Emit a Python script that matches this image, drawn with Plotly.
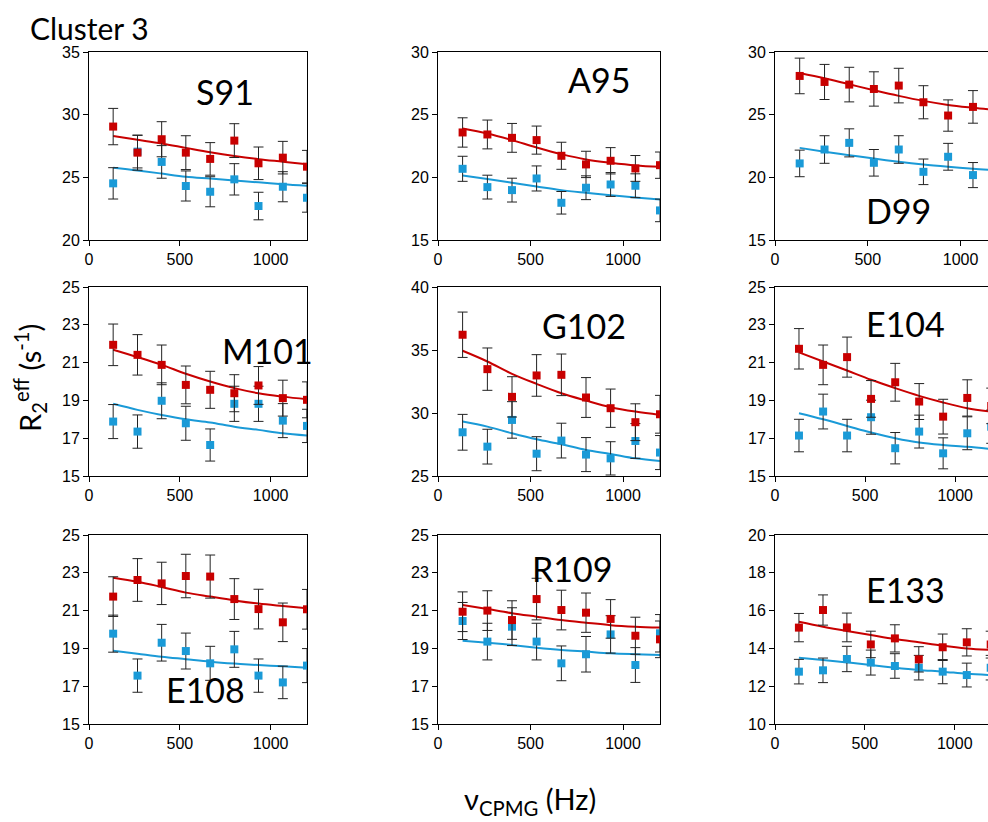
import plotly.graph_objects as go
from plotly.subplots import make_subplots

# ---------------- data ----------------
x_vcpmg = [133, 267, 400, 533, 667, 800, 933, 1067, 1200]

names = ["S91", "A95", "D99", "M101", "G102", "E104", "E108", "R109", "E133"]

s91_red = [29.05, 26.97, 28.04, 26.97, 26.47, 27.93, 26.12, 26.57, 25.85]
s91_blue = [24.52, 27.05, 26.23, 24.31, 23.85, 24.84, 22.71, 24.25, 23.37]
s91_red_err = [1.45, 1.4, 1.4, 1.35, 1.3, 1.35, 1.3, 1.3, 1.3]
s91_blue_err = [1.25, 1.3, 1.3, 1.2, 1.2, 1.25, 1.1, 1.2, 1.15]
s91_red_fit = [28.3, 28.0, 27.7, 27.35, 27.0, 26.7, 26.45, 26.25, 26.05]
s91_blue_fit = [25.77, 25.55, 25.3, 25.05, 24.9, 24.75, 24.6, 24.45, 24.33]

a95_red = [23.58, 23.42, 23.15, 22.97, 21.72, 21.03, 21.32, 20.71, 20.97]
a95_blue = [20.68, 19.22, 18.98, 19.91, 17.97, 19.17, 19.43, 19.33, 17.36]
a95_red_err = [1.17, 1.15, 1.15, 1.12, 1.08, 1.05, 1.05, 1.03, 1.05]
a95_blue_err = [1.0, 0.95, 0.95, 1.0, 0.9, 0.95, 0.95, 0.95, 0.9]
a95_red_fit = [23.9, 23.5, 22.97, 22.38, 21.85, 21.43, 21.16, 20.95, 20.84]
a95_blue_fit = [20.15, 19.87, 19.57, 19.27, 18.98, 18.77, 18.58, 18.4, 18.24]

d99_red = [28.09, 27.61, 27.4, 27.05, 27.32, 25.99, 24.93, 25.62, 25.2]
d99_blue = [21.11, 22.22, 22.75, 21.16, 22.22, 20.44, 21.64, 20.18, 20.3]
d99_red_err = [1.42, 1.4, 1.38, 1.37, 1.38, 1.32, 1.25, 1.3, 1.3]
d99_blue_err = [1.06, 1.1, 1.12, 1.06, 1.1, 1.02, 1.07, 1.0, 1.0]
d99_red_fit = [28.33, 27.9, 27.42, 26.95, 26.5, 26.1, 25.78, 25.55, 25.35]
d99_blue_fit = [22.35, 22.05, 21.77, 21.5, 21.24, 21.02, 20.84, 20.68, 20.55]

m101_red = [21.94, 21.41, 20.88, 19.82, 19.56, 19.38, 19.79, 19.12, 19.03]
m101_blue = [17.88, 17.35, 18.98, 17.79, 16.64, 18.82, 18.82, 17.93, 17.65]
m101_red_err = [1.1, 1.07, 1.05, 1.0, 0.98, 0.98, 1.0, 0.95, 0.95]
m101_blue_err = [0.9, 0.88, 0.95, 0.9, 0.85, 0.93, 0.93, 0.9, 0.88]
m101_red_fit = [21.68, 21.29, 20.88, 20.41, 20.0, 19.65, 19.38, 19.2, 19.06]
m101_blue_fit = [18.82, 18.5, 18.23, 18.0, 17.83, 17.61, 17.44, 17.26, 17.14]

g102_red = [36.21, 33.48, 31.28, 32.98, 33.03, 31.23, 30.38, 29.27, 29.9]
g102_blue = [28.47, 27.33, 29.45, 26.77, 27.81, 26.7, 26.4, 27.78, 26.86]
g102_red_err = [1.8, 1.68, 1.6, 1.65, 1.65, 1.58, 1.52, 1.46, 1.5]
g102_blue_err = [1.42, 1.38, 1.45, 1.35, 1.38, 1.35, 1.32, 1.38, 1.35]
g102_red_fit = [34.94, 34.09, 33.11, 32.31, 31.57, 30.99, 30.46, 30.11, 29.85]
g102_blue_fit = [29.32, 28.92, 28.39, 27.91, 27.52, 27.07, 26.75, 26.4, 26.19]

e104_red = [21.73, 20.88, 21.29, 19.08, 19.96, 18.94, 18.14, 19.13, 18.71]
e104_blue = [17.14, 18.41, 17.14, 18.11, 16.47, 17.35, 16.2, 17.26, 17.61]
e104_red_err = [1.07, 1.05, 1.06, 0.97, 1.0, 0.95, 0.92, 0.96, 0.94]
e104_blue_err = [0.86, 0.92, 0.86, 0.9, 0.83, 0.87, 0.82, 0.87, 0.88]
e104_red_fit = [21.54, 21.06, 20.58, 20.09, 19.65, 19.24, 18.89, 18.59, 18.41]
e104_blue_fit = [18.32, 18.0, 17.65, 17.3, 17.0, 16.77, 16.64, 16.55, 16.43]

e108_red = [21.74, 22.62, 22.44, 22.83, 22.8, 21.61, 21.08, 20.38, 21.07]
e108_blue = [19.78, 17.56, 19.3, 18.86, 18.21, 18.95, 17.56, 17.2, 18.09]
e108_red_err = [1.05, 1.13, 1.12, 1.15, 1.14, 1.08, 1.05, 1.02, 1.05]
e108_blue_err = [0.98, 0.88, 0.97, 0.95, 0.9, 0.95, 0.88, 0.86, 0.9]
e108_red_fit = [22.74, 22.53, 22.25, 21.95, 21.74, 21.54, 21.37, 21.24, 21.12]
e108_blue_fit = [18.88, 18.72, 18.56, 18.43, 18.3, 18.2, 18.12, 18.05, 17.98]

r109_red = [20.94, 21.0, 20.5, 21.61, 21.03, 20.89, 20.56, 19.67, 19.48]
r109_blue = [20.45, 19.36, 20.15, 19.36, 18.21, 18.69, 19.74, 18.12, 19.8]
r109_red_err = [1.05, 1.05, 1.02, 1.1, 1.05, 1.04, 1.02, 0.98, 0.97]
r109_blue_err = [0.98, 0.97, 1.0, 0.97, 0.92, 0.94, 0.99, 0.92, 0.99]
r109_red_fit = [21.3, 21.08, 20.86, 20.68, 20.5, 20.36, 20.23, 20.15, 20.1]
r109_blue_fit = [19.41, 19.3, 19.18, 19.04, 18.92, 18.83, 18.74, 18.69, 18.65]

e133_red = [15.1, 16.03, 15.11, 14.21, 14.53, 13.42, 14.06, 14.32, 14.2]
e133_blue = [12.77, 12.84, 13.44, 13.25, 13.07, 12.98, 12.77, 12.59, 12.98]
e133_red_err = [0.75, 0.8, 0.76, 0.7, 0.72, 0.67, 0.7, 0.72, 0.71]
e133_blue_err = [0.65, 0.65, 0.67, 0.66, 0.65, 0.65, 0.64, 0.63, 0.65]
e133_red_fit = [15.41, 15.15, 14.92, 14.71, 14.5, 14.32, 14.14, 14.0, 13.92]
e133_blue_fit = [13.51, 13.39, 13.26, 13.12, 12.98, 12.86, 12.77, 12.66, 12.59]

y_ranges = [[20, 35], [15, 30], [15, 30],
            [15, 25], [25, 40], [15, 25],
            [15, 25], [15, 25], [10, 20]]
y_dticks = [5, 5, 5, 2, 5, 2, 2, 2, 2]
x_maxes = [1200, 1200, 1148,
           1200, 1200, 1182,
           1200, 1200, 1185]
x_ticks = [0, 500, 1000]

panels = [
    (s91_red, s91_blue, s91_red_err, s91_blue_err, s91_red_fit, s91_blue_fit),
    (a95_red, a95_blue, a95_red_err, a95_blue_err, a95_red_fit, a95_blue_fit),
    (d99_red, d99_blue, d99_red_err, d99_blue_err, d99_red_fit, d99_blue_fit),
    (m101_red, m101_blue, m101_red_err, m101_blue_err, m101_red_fit, m101_blue_fit),
    (g102_red, g102_blue, g102_red_err, g102_blue_err, g102_red_fit, g102_blue_fit),
    (e104_red, e104_blue, e104_red_err, e104_blue_err, e104_red_fit, e104_blue_fit),
    (e108_red, e108_blue, e108_red_err, e108_blue_err, e108_red_fit, e108_blue_fit),
    (r109_red, r109_blue, r109_red_err, r109_blue_err, r109_red_fit, r109_blue_fit),
    (e133_red, e133_blue, e133_red_err, e133_blue_err, e133_red_fit, e133_blue_fit),
]

# ---------------- layout geometry ----------------
# body margin is removed by the post script, so the figure fills the window
OFF = 0
W, H = 988, 822
col_px = [(89, 307), (438, 660), (775, 988)]   # window pixels
row_px = [(52, 240), (287, 476), (535, 724)]

label_pos = [(225, 92), (599, 79), (898, 210),
             (267, 350), (584, 325), (905, 323),
             (205, 689), (572, 568), (905, 589)]


def px(x):
    return (x - OFF) / W


def py(y):
    return 1 - (y - OFF) / H


RED = "#C80000"
BLUE = "#1A9AD7"
TICKFONT = dict(family="Liberation Sans, Arial", size=16, color="black")
LABELFONT = "Lato, Noto Sans"

fig = make_subplots(rows=3, cols=3)

for i, (red, blue, rerr, berr, rfit, bfit) in enumerate(panels):
    r, c = i // 3 + 1, i % 3 + 1
    fig.add_trace(go.Scatter(x=x_vcpmg, y=rfit, mode="lines", line=dict(color=RED, width=2, shape="spline"),
                             showlegend=False, hoverinfo="skip"), row=r, col=c)
    fig.add_trace(go.Scatter(x=x_vcpmg, y=bfit, mode="lines", line=dict(color=BLUE, width=2, shape="spline"),
                             showlegend=False, hoverinfo="skip"), row=r, col=c)
    fig.add_trace(go.Scatter(x=x_vcpmg, y=blue, mode="markers",
                             marker=dict(symbol="square", size=8, color=BLUE),
                             error_y=dict(type="data", array=berr, color="#222222", thickness=1, width=5),
                             showlegend=False), row=r, col=c)
    fig.add_trace(go.Scatter(x=x_vcpmg, y=red, mode="markers",
                             marker=dict(symbol="square", size=8, color=RED),
                             error_y=dict(type="data", array=rerr, color="#222222", thickness=1, width=5),
                             showlegend=False), row=r, col=c)

    x0, x1 = col_px[c - 1]
    y0, y1 = row_px[r - 1]
    xa = dict(domain=[px(x0), min(px(x1), 1.0)], range=[0, x_maxes[i]],
              tickvals=x_ticks, showline=True, linecolor="black", linewidth=1,
              mirror=True, ticks="outside", ticklen=5, tickcolor="black",
              showgrid=False, zeroline=False, automargin=False, tickfont=TICKFONT)
    ya = dict(domain=[py(y1), py(y0)], range=y_ranges[i],
              tick0=y_ranges[i][0], dtick=y_dticks[i],
              showline=True, linecolor="black", linewidth=1,
              mirror=(c != 3), ticks="outside", ticklen=5, tickcolor="black",
              showgrid=False, zeroline=False, automargin=False, tickfont=TICKFONT)
    fig.update_xaxes(xa, row=r, col=c)
    fig.update_yaxes(ya, row=r, col=c)

    lx, ly = label_pos[i]
    fig.add_annotation(x=px(lx), y=py(ly), xref="paper", yref="paper", text=names[i],
                       showarrow=False, xanchor="center", yanchor="middle",
                       font=dict(family=LABELFONT, size=34, color="black"))

fig.add_annotation(x=px(28), y=py(28), xref="paper", yref="paper", text="Cluster 3",
                   showarrow=False, xanchor="left", yanchor="middle",
                   font=dict(family=LABELFONT, size=30, color="black"))
fig.add_annotation(x=px(30), y=py(378), xref="paper", yref="paper",
                   text="R<sub>2</sub><sup>eff</sup> (s<sup>-1</sup>)", textangle=-90,
                   showarrow=False, xanchor="center", yanchor="middle",
                   font=dict(family=LABELFONT, size=29, color="black"))
fig.add_annotation(x=px(530), y=py(800), xref="paper", yref="paper",
                   text="ν<sub>CPMG</sub> (Hz)",
                   showarrow=False, xanchor="center", yanchor="middle",
                   font=dict(family=LABELFONT, size=29, color="black"))

fig.update_layout(width=W, height=H, margin=dict(l=0, r=0, t=0, b=0, autoexpand=False),
                  plot_bgcolor="white", paper_bgcolor="white")

fig.write_html("out.html", config={"displayModeBar": False},
               post_script="document.body.style.margin='0';document.body.style.overflow='hidden';")
